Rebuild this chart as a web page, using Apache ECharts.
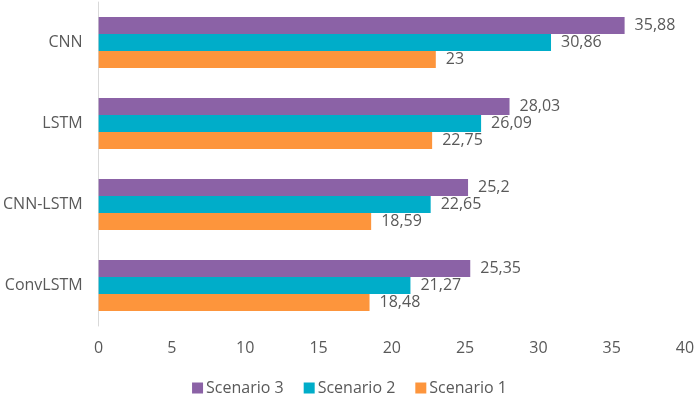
<!DOCTYPE html>
<html><head><meta charset="utf-8">
<script src="https://cdn.jsdelivr.net/npm/echarts@6/dist/echarts.min.js"></script>
<style>html,body{margin:0;padding:0;background:#fff}#c{width:699px;height:396px}</style>
</head><body><div id="c"></div>
<script>
const categories = ['CNN', 'LSTM', 'CNN-LSTM', 'ConvLSTM'];
const scenario3 = [35.88, 28.03, 25.2, 25.35];
const scenario2 = [30.86, 26.09, 22.65, 21.27];
const scenario1 = [23, 22.75, 18.59, 18.48];
const seriesNames = ['Scenario 3', 'Scenario 2', 'Scenario 1'];
const colors = ['#8B62A6', '#00ADC9', '#FD953C'];
const xTicks = [0, 5, 10, 15, 20, 25, 30, 35, 40];

const font = '"Open Sans", "Noto Sans", sans-serif';
const chart = echarts.init(document.getElementById('c'));
const fmt = p => String(p.value).replace('.', ',');
const mk = (name, data, color) => ({
  name, type: 'bar', data, barGap: '0%', barCategoryGap: '37%',
  itemStyle: { color },
  label: { show: true, position: 'right', formatter: fmt, color: '#595959', fontSize: 16, fontFamily: font, distance: 10 }
});
chart.setOption({
  animation: false,
  color: colors,
  grid: { left: 98, right: 14, top: 2, bottom: 70, containLabel: false },
  legend: {
    top: 375, left: 'center', itemWidth: 11, itemHeight: 11, itemGap: 20,
    icon: 'rect',
    textStyle: { color: '#595959', fontSize: 16, fontFamily: font, padding: [0, 0, 0, -2] },
    data: seriesNames
  },
  xAxis: {
    type: 'value', min: xTicks[0], max: xTicks[xTicks.length - 1], interval: 5,
    axisLine: { show: false }, axisTick: { show: false }, splitLine: { show: false },
    axisLabel: { color: '#595959', fontSize: 16, fontFamily: font, margin: 14 }
  },
  yAxis: {
    type: 'category', data: categories, inverse: true,
    axisLine: { show: true, lineStyle: { color: '#d9d9d9', width: 1 } },
    axisTick: { show: false },
    axisLabel: { color: '#595959', fontSize: 16, fontFamily: font, margin: 16 }
  },
  series: [
    mk(seriesNames[0], scenario3, colors[0]),
    mk(seriesNames[1], scenario2, colors[1]),
    mk(seriesNames[2], scenario1, colors[2])
  ]
});
</script></body></html>
